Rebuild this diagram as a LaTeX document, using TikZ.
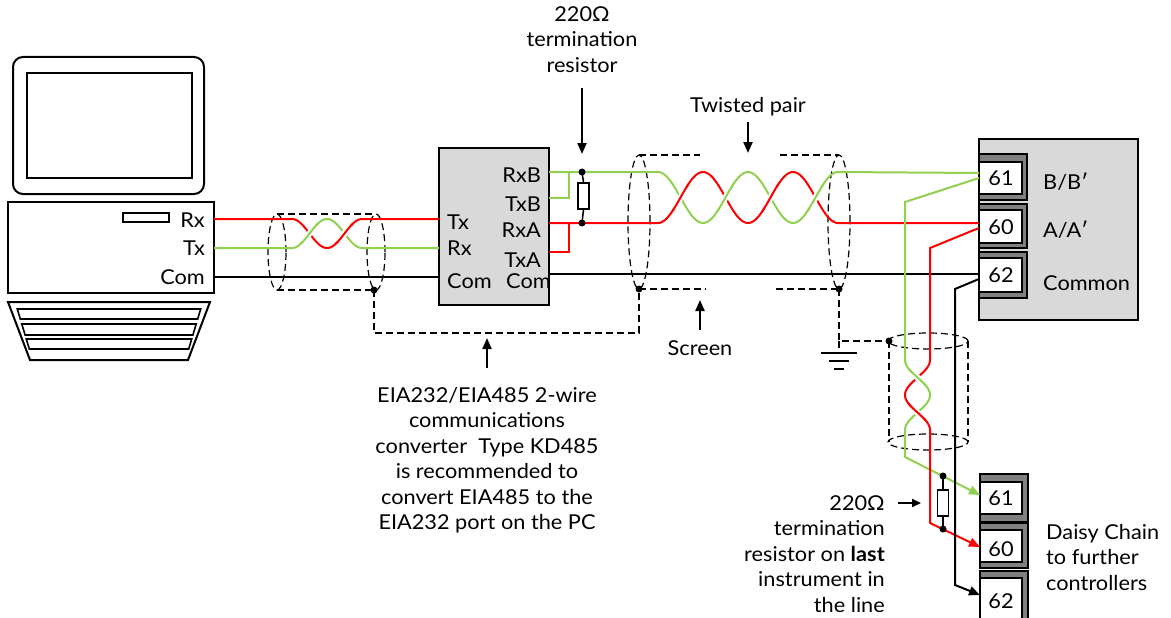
\documentclass[tikz,border=0pt]{standalone}
\usepackage{fontspec}
\setmainfont{Lato}[FakeStretch=1.06]
\usetikzlibrary{arrows.meta,calc}
\definecolor{wred}{HTML}{FF0000}
\definecolor{wgreen}{HTML}{92D050}
\definecolor{boxgray}{HTML}{D9D9D9}
\definecolor{termgray}{HTML}{808080}
\begin{document}
\begin{tikzpicture}[x=1pt,y=-1pt,
  outline/.style={draw=black, line width=2pt},
  redw/.style={draw=wred, line width=2pt},
  greenw/.style={draw=wgreen, line width=2pt},
  blackw/.style={draw=black, line width=1.6pt},
  halo/.style={draw=white, line width=6pt},
  shield/.style={draw=black, line width=1.2pt, dash pattern=on 7pt off 4pt},
  dotn/.style={circle, fill=black, inner sep=0pt, minimum size=7pt},
  bigarrow/.style={line width=2.2pt, -{Triangle[length=11pt,width=9pt]}},
  tiparrow/.style={-{Triangle[length=11pt,width=9pt]}},
  lbl/.style={inner sep=0pt, font=\fontsize{20.5}{25.5}\selectfont},
  resist/.style={draw=black, line width=1.5pt, fill=white, minimum width=11pt, minimum height=26pt, inner sep=0pt},
  graybox/.style={draw=black, line width=1.6pt, fill=boxgray, inner sep=0pt},
  termblk/.style={draw=black, line width=1.2pt, fill=termgray},
  termwin/.style={draw=black, line width=1.6pt, fill=white}
]
\useasboundingbox (0,0) rectangle (1171,618);

% ---------------- PC ----------------
\draw[outline, rounded corners=10pt] (13,57) rectangle (204,194);
\draw[outline] (27,73) rectangle (192,178);
\draw[outline] (8,202) rectangle (214,293);
\draw[draw=black, line width=1.6pt] (123,213) rectangle (169,222);
\draw[outline, line join=miter] (8,302) -- (210,302) -- (188,360) -- (30,360) -- cycle;
\draw[draw=black, line width=1.6pt] (17.3,309) -- (200.7,309) -- (197.7,319) -- (20.3,319) -- cycle;
\draw[draw=black, line width=1.6pt] (21.8,324) -- (196.2,324) -- (192.9,335) -- (25.1,335) -- cycle;
\draw[draw=black, line width=1.6pt] (26.3,339) -- (191.7,339) -- (188.7,349) -- (29.3,349) -- cycle;
\node[lbl, anchor=mid east] (pcrx) at (205,225) {Rx};
\node[lbl, anchor=mid east] (pctx) at (205,253) {Tx};
\node[lbl, anchor=mid east] (pccom) at (205,281.5) {Com};
\coordinate (pcR) at (214,219);
\coordinate (pcT) at (214,248);
\coordinate (pcC) at (214,277);

% ---------------- Converter ----------------
\node[graybox, minimum width=110pt, minimum height=157pt] (conv) at (494,226.5) {};
\node[lbl, anchor=mid west] (cvtx) at (447,227) {Tx};
\node[lbl, anchor=mid west] (cvrx) at (447,253) {Rx};
\node[lbl, anchor=mid west] (cvcoml) at (447,286) {Com};
\node[lbl, anchor=mid east] (cvrxb) at (541,180) {RxB};
\node[lbl, anchor=mid east] (cvtxb) at (541,209) {TxB};
\node[lbl, anchor=mid east] (cvrxa) at (541,235) {RxA};
\node[lbl, anchor=mid east] (cvtxa) at (541,265) {TxA};
\node[lbl, anchor=mid west] (cvcomr) at (506,286) {Com};
\coordinate (cvTx) at (439,219);
\coordinate (cvRx) at (439,248);
\coordinate (cvCl) at (439,277);
\coordinate (cvRxB) at (549,172);
\coordinate (cvTxB) at (549,198);
\coordinate (cvRxA) at (549,223);
\coordinate (cvTxA) at (549,252);
\coordinate (cvCr) at (549,274);

% ---------------- Instrument ----------------
\node[graybox, minimum width=159pt, minimum height=181pt] (inst) at (1058.5,229.5) {};
\draw[termblk] (979,154) rectangle (1027,200);
\draw[termwin] (979,162) rectangle (1022,194);
\draw[termblk] (979,204) rectangle (1027,248);
\draw[termwin] (979,210) rectangle (1022,243);
\draw[termblk] (979,252) rectangle (1027,298);
\draw[termwin] (979,258) rectangle (1022,292);
\node[lbl] (t61) at (1001,178) {61};
\node[lbl] (t60) at (1001,227) {60};
\node[lbl] (t62) at (1001,275) {62};
\node[lbl, anchor=mid west] (lbb) at (1043,187) {B/B′};
\node[lbl, anchor=mid west] (laa) at (1043,235) {A/A′};
\node[lbl, anchor=mid west] (lcom) at (1043,288) {Common};
\coordinate (iB) at (979,173);
\coordinate (iA) at (979,223);
\coordinate (iC) at (979,274);
\coordinate (iB2) at (979,178);
\coordinate (iA2) at (979,228);
\coordinate (iC2) at (979,279);

% ---------------- Bottom terminals ----------------
\draw[termblk] (980,474) rectangle (1028,522);
\draw[termwin] (980,482) rectangle (1022,514);
\draw[termblk] (980,523) rectangle (1028,568);
\draw[termwin] (980,530) rectangle (1022,562);
\draw[termblk] (980,571) rectangle (1028,630);
\draw[termwin] (980,578) rectangle (1022,630);
\node[lbl] (b61) at (1001,498) {61};
\node[lbl] (b60) at (1001,549) {60};
\node[lbl] (b62) at (1001,601) {62};
\coordinate (bB) at (980,495);
\coordinate (bA) at (980,547);
\coordinate (bC) at (980,595);

% ---------------- Shields ----------------
\draw[shield] (277,252) ellipse [x radius=9pt, y radius=38pt];
\draw[shield] (376,252) ellipse [x radius=9pt, y radius=38pt];
\draw[shield] (277,214) -- (376,214);
\draw[shield] (277,290) -- (376,290);
\node[dotn] (s1) at (374,290) {};
\draw[shield] (639,222) ellipse [x radius=11pt, y radius=67pt];
\draw[shield] (839,222) ellipse [x radius=11pt, y radius=67pt];
\draw[shield] (639,155) -- (700,155);
\draw[shield] (780,155) -- (839,155);
\draw[shield] (639,289) -- (706,289);
\draw[shield] (776,289) -- (839,289);
\node[dotn] (s2) at (639,289) {};
\node[dotn] (s3) at (839,289) {};
\draw[shield] (s1.center) -- (374,333) -- (639,333) -- (s2.center);
\coordinate (gnd) at (839,353);
\node[dotn] (s4) at (889,341) {};
\draw[shield] (s3.center) -- (839,341) -- (s4.center);
\draw[shield] (839,341) -- (gnd);
\draw[line width=2pt] (821,353) -- (857,353) (829,361) -- (849,361) (834,369) -- (844,369);
\draw[shield] (928,341) ellipse [x radius=40pt, y radius=8pt];
\draw[shield] (928,442) ellipse [x radius=40pt, y radius=8pt];
\draw[shield] (889,341) -- (889,442);
\draw[shield] (968,341) -- (968,442);

% ---------------- Wires: PC to converter ----------------
\draw[redw] (pcR) -- (292,219) -- plot[domain=292:362, samples=50] (\x, {233.5-14.5*cos(5.142857*(\x-292))}) -- (cvTx);
\draw[greenw] (pcT) -- (292,248) -- plot[domain=292:362, samples=50] (\x, {233.5+14.5*cos(5.142857*(\x-292))}) -- (cvRx);
\draw[halo] plot[domain=303:316, samples=10] (\x, {233.5+14.5*cos(5.142857*(\x-292))});
\draw[greenw] plot[domain=301:318, samples=10] (\x, {233.5+14.5*cos(5.142857*(\x-292))});
\draw[halo] plot[domain=338:351, samples=10] (\x, {233.5-14.5*cos(5.142857*(\x-292))});
\draw[redw] plot[domain=336:353, samples=10] (\x, {233.5-14.5*cos(5.142857*(\x-292))});
\draw[blackw] (pcC) -- (cvCl);

% ---------------- Wires: converter to instrument ----------------
\draw[greenw] (cvTxB) -- (569,198) -- (569,172);
\draw[redw] (cvTxA) -- (569,252) -- (569,223);
\draw[greenw] (cvRxB) -- (658,172) -- plot[domain=658:838, samples=120] (\x, {197.5-25.5*cos(4*(\x-658))}) -- (iB);
\draw[redw] (cvRxA) -- (658,223) -- plot[domain=658:838, samples=120] (\x, {197.5+25.5*cos(4*(\x-658))}) -- (iA);
\foreach \c in {680.5,770.5}{
  \draw[halo] plot[domain=\c-6:\c+6, samples=10] (\x, {197.5+25.5*cos(4*(\x-658))});
  \draw[redw] plot[domain=\c-8:\c+8, samples=10] (\x, {197.5+25.5*cos(4*(\x-658))});
}
\foreach \c in {725.5,815.5}{
  \draw[halo] plot[domain=\c-6:\c+6, samples=10] (\x, {197.5-25.5*cos(4*(\x-658))});
  \draw[greenw] plot[domain=\c-8:\c+8, samples=10] (\x, {197.5-25.5*cos(4*(\x-658))});
}
\draw[blackw] (cvCr) -- (iC);

% termination resistor at converter
\node[dotn] (rd1) at (582,172) {};
\node[dotn] (rd2) at (582,223) {};
\node[resist] (r1) at (583.5,196) {};
\draw[line width=1.5pt] (rd1.center) -- (r1.north) (r1.south) -- (rd2.center);

% ---------------- Daisy chain ----------------
\draw[greenw, tiparrow] (iB2) -- (905,202) -- (905,360) -- plot[domain=360:430, samples=50] ({917.5-12.5*cos(5.142857*(\x-360))}, \x) -- (905,457) -- (bB);
\draw[redw, tiparrow] (iA2) -- (930,248) -- (930,360) -- plot[domain=360:430, samples=50] ({917.5+12.5*cos(5.142857*(\x-360))}, \x) -- (930,523) -- (bA);
\draw[halo] plot[domain=371:384, samples=10] ({917.5-12.5*cos(5.142857*(\x-360))}, \x);
\draw[greenw] plot[domain=369:386, samples=10] ({917.5-12.5*cos(5.142857*(\x-360))}, \x);
\draw[halo] plot[domain=406:419, samples=10] ({917.5+12.5*cos(5.142857*(\x-360))}, \x);
\draw[redw] plot[domain=404:421, samples=10] ({917.5+12.5*cos(5.142857*(\x-360))}, \x);
\draw[blackw, line width=2pt, tiparrow] (iC2) -- (955,289) -- (955,585) -- (bC);
\node[dotn] (rd3) at (943,476) {};
\node[dotn] (rd4) at (943,529) {};
\node[resist] (r2) at (943,503) {};
\draw[line width=1.5pt] (rd3.center) -- (r2.north) (r2.south) -- (rd4.center);

% ---------------- Labels and arrows ----------------
\node[lbl, align=center, anchor=north] (toptxt) at (582,6) {220Ω\\termination\\resistor};
\coordinate (a1s) at (582,88);
\coordinate (a1e) at (582,154);
\draw[bigarrow] (a1s) -- (a1e);
\node[lbl, anchor=mid] (twp) at (748,110) {Twisted pair};
\coordinate (a2s) at (748,122);
\coordinate (a2e) at (748,153);
\draw[bigarrow] (a2s) -- (a2e);
\node[lbl, anchor=mid] (scr) at (700,353) {Screen};
\coordinate (a3s) at (700,330);
\coordinate (a3e) at (700,300);
\draw[bigarrow] (a3s) -- (a3e);
\coordinate (a4s) at (487,368);
\coordinate (a4e) at (487,338);
\draw[bigarrow] (a4s) -- (a4e);
\node[lbl, align=center, anchor=north] (convtxt) at (487,387) {EIA232/EIA485 2-wire\\communications\\converter\ \ Type KD485\\is recommended to\\convert EIA485 to the\\EIA232 port on the PC};
\node[lbl, align=right, anchor=north east] (termtxt) at (885,495) {220Ω\\termination\\resistor on \textbf{last}\\instrument in\\the line};
\coordinate (a5s) at (898,503);
\coordinate (a5e) at (921,503);
\draw[line width=2pt, -{Triangle[length=9pt,width=8pt]}] (a5s) -- (a5e);
\node[lbl, align=left, anchor=north west] (daisy) at (1046,524) {Daisy Chain\\to further\\controllers};
\end{tikzpicture}
\end{document}
